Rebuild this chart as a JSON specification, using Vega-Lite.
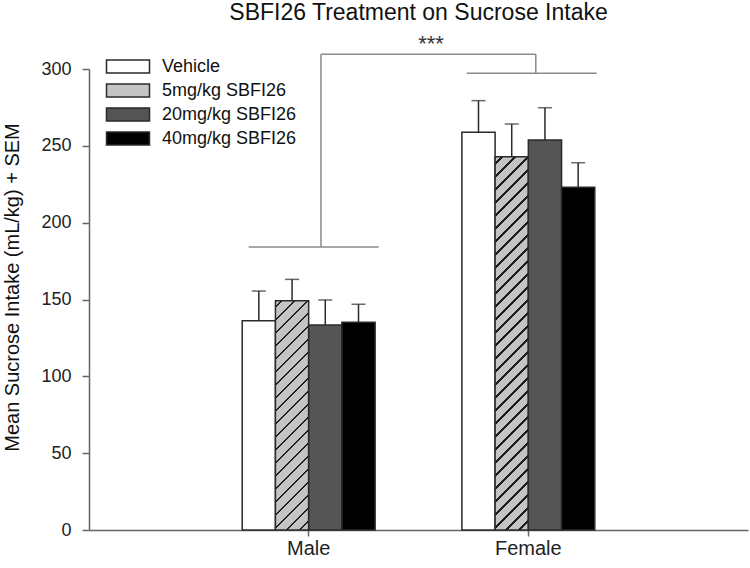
{
  "$schema": "https://vega.github.io/schema/vega-lite/v6.json",
  "width": 659,
  "height": 461,
  "autosize": {"type": "none"},
  "padding": {"left": 89, "top": 69, "right": 2, "bottom": 38},
  "background": "white",
  "config": {"view": {"stroke": null}, "font": "Liberation Sans"},
  "title": {"text": "SBFI26 Treatment on Sucrose Intake", "fontSize": 23, "font": "Liberation Sans", "fontWeight": "normal", "color": "#111111", "anchor": "middle", "offset": 8},
  "layer": [
    {
      "data": {"values": [
        {"sex": "Male", "treatment": "Vehicle", "mean": 136.2, "upper": 155.5},
        {"sex": "Male", "treatment": "5mg/kg SBFI26", "mean": 149.2, "upper": 163.1},
        {"sex": "Male", "treatment": "20mg/kg SBFI26", "mean": 133.4, "upper": 149.7},
        {"sex": "Male", "treatment": "40mg/kg SBFI26", "mean": 135.2, "upper": 146.9},
        {"sex": "Female", "treatment": "Vehicle", "mean": 258.8, "upper": 279.4},
        {"sex": "Female", "treatment": "5mg/kg SBFI26", "mean": 242.9, "upper": 264.2},
        {"sex": "Female", "treatment": "20mg/kg SBFI26", "mean": 253.8, "upper": 274.8},
        {"sex": "Female", "treatment": "40mg/kg SBFI26", "mean": 223.0, "upper": 239.0}
      ]},
      "encoding": {
        "x": {"field": "sex", "type": "nominal", "sort": ["Male", "Female"],
          "scale": {"domain": ["Male", "Female"], "paddingInner": 0.395, "paddingOuter": 0.6975},
          "axis": {"title": null, "labelAngle": 0, "labelFontSize": 20, "labelColor": "#222222", "tickSize": 6, "tickWidth": 1.5, "tickColor": "#666666", "domainColor": "#666666", "domainWidth": 1.5, "labelPadding": 2.5, "grid": false}},
        "xOffset": {"field": "treatment", "type": "nominal", "sort": ["Vehicle", "5mg/kg SBFI26", "20mg/kg SBFI26", "40mg/kg SBFI26"],
          "scale": {"domain": ["Vehicle", "5mg/kg SBFI26", "20mg/kg SBFI26", "40mg/kg SBFI26"], "paddingInner": 0, "paddingOuter": 0}}
      },
      "layer": [
        {
          "mark": {"type": "bar", "strokeWidth": 1.5},
          "encoding": {
            "y": {"field": "mean", "type": "quantitative", "scale": {"domain": [0, 300], "nice": false},
              "axis": {"values": [0, 50, 100, 150, 200, 250, 300], "grid": false, "tickSize": 7, "tickWidth": 1.5, "tickColor": "#666666", "domainColor": "#666666", "domainWidth": 1.5, "labelFontSize": 18, "labelColor": "#222222", "labelPadding": 11, "title": "Mean Sucrose Intake (mL/kg) + SEM", "titleFontSize": 20, "titleFontWeight": "normal", "titleColor": "#111111", "titlePadding": 18, "titleY": 218}},
            "stroke": {"field": "treatment", "type": "nominal",
              "scale": {"domain": ["Vehicle", "5mg/kg SBFI26", "20mg/kg SBFI26", "40mg/kg SBFI26"], "range": ["#2a2a2a", "#2a2a2a", "#2a2a2a", "#2a2a2a"]},
              "legend": {"title": null, "orient": "none", "legendX": 30, "legendY": -11.5, "padding": 0,
                "symbolType": "M-3.3077,-1H3.3077V1H-3.3077Z", "symbolSize": 169, "symbolStrokeWidth": 1.5, "symbolOpacity": 1,
                "labelFontSize": 18, "labelColor": "#111111", "labelOffset": 25, "rowPadding": 4}},
            "fill": {
              "condition": [
                {"test": "datum.sex === 'Male' && datum.treatment === '5mg/kg SBFI26'", "value": {"gradient": "linear", "x1": 0, "y1": 0, "x2": 0.16248, "y2": 1.12137, "stops": [
                  {"offset": 0, "color": "#c4c4c4"},
                  {"offset": 0.0200, "color": "#c4c4c4"}, {"offset": 0.0200, "color": "#1e1e1e"}, {"offset": 0.0284, "color": "#1e1e1e"}, {"offset": 0.0284, "color": "#c4c4c4"},
                  {"offset": 0.0695, "color": "#c4c4c4"}, {"offset": 0.0695, "color": "#1e1e1e"}, {"offset": 0.0779, "color": "#1e1e1e"}, {"offset": 0.0779, "color": "#c4c4c4"},
                  {"offset": 0.1191, "color": "#c4c4c4"}, {"offset": 0.1191, "color": "#1e1e1e"}, {"offset": 0.1275, "color": "#1e1e1e"}, {"offset": 0.1275, "color": "#c4c4c4"},
                  {"offset": 0.1686, "color": "#c4c4c4"}, {"offset": 0.1686, "color": "#1e1e1e"}, {"offset": 0.1770, "color": "#1e1e1e"}, {"offset": 0.1770, "color": "#c4c4c4"},
                  {"offset": 0.2181, "color": "#c4c4c4"}, {"offset": 0.2181, "color": "#1e1e1e"}, {"offset": 0.2265, "color": "#1e1e1e"}, {"offset": 0.2265, "color": "#c4c4c4"},
                  {"offset": 0.2676, "color": "#c4c4c4"}, {"offset": 0.2676, "color": "#1e1e1e"}, {"offset": 0.2760, "color": "#1e1e1e"}, {"offset": 0.2760, "color": "#c4c4c4"},
                  {"offset": 0.3172, "color": "#c4c4c4"}, {"offset": 0.3172, "color": "#1e1e1e"}, {"offset": 0.3256, "color": "#1e1e1e"}, {"offset": 0.3256, "color": "#c4c4c4"},
                  {"offset": 0.3667, "color": "#c4c4c4"}, {"offset": 0.3667, "color": "#1e1e1e"}, {"offset": 0.3751, "color": "#1e1e1e"}, {"offset": 0.3751, "color": "#c4c4c4"},
                  {"offset": 0.4162, "color": "#c4c4c4"}, {"offset": 0.4162, "color": "#1e1e1e"}, {"offset": 0.4246, "color": "#1e1e1e"}, {"offset": 0.4246, "color": "#c4c4c4"},
                  {"offset": 0.4657, "color": "#c4c4c4"}, {"offset": 0.4657, "color": "#1e1e1e"}, {"offset": 0.4741, "color": "#1e1e1e"}, {"offset": 0.4741, "color": "#c4c4c4"},
                  {"offset": 0.5153, "color": "#c4c4c4"}, {"offset": 0.5153, "color": "#1e1e1e"}, {"offset": 0.5237, "color": "#1e1e1e"}, {"offset": 0.5237, "color": "#c4c4c4"},
                  {"offset": 0.5648, "color": "#c4c4c4"}, {"offset": 0.5648, "color": "#1e1e1e"}, {"offset": 0.5732, "color": "#1e1e1e"}, {"offset": 0.5732, "color": "#c4c4c4"},
                  {"offset": 0.6143, "color": "#c4c4c4"}, {"offset": 0.6143, "color": "#1e1e1e"}, {"offset": 0.6227, "color": "#1e1e1e"}, {"offset": 0.6227, "color": "#c4c4c4"},
                  {"offset": 0.6638, "color": "#c4c4c4"}, {"offset": 0.6638, "color": "#1e1e1e"}, {"offset": 0.6722, "color": "#1e1e1e"}, {"offset": 0.6722, "color": "#c4c4c4"},
                  {"offset": 0.7134, "color": "#c4c4c4"}, {"offset": 0.7134, "color": "#1e1e1e"}, {"offset": 0.7218, "color": "#1e1e1e"}, {"offset": 0.7218, "color": "#c4c4c4"},
                  {"offset": 0.7629, "color": "#c4c4c4"}, {"offset": 0.7629, "color": "#1e1e1e"}, {"offset": 0.7713, "color": "#1e1e1e"}, {"offset": 0.7713, "color": "#c4c4c4"},
                  {"offset": 0.8124, "color": "#c4c4c4"}, {"offset": 0.8124, "color": "#1e1e1e"}, {"offset": 0.8208, "color": "#1e1e1e"}, {"offset": 0.8208, "color": "#c4c4c4"},
                  {"offset": 0.8619, "color": "#c4c4c4"}, {"offset": 0.8619, "color": "#1e1e1e"}, {"offset": 0.8703, "color": "#1e1e1e"}, {"offset": 0.8703, "color": "#c4c4c4"},
                  {"offset": 0.9115, "color": "#c4c4c4"}, {"offset": 0.9115, "color": "#1e1e1e"}, {"offset": 0.9199, "color": "#1e1e1e"}, {"offset": 0.9199, "color": "#c4c4c4"},
                  {"offset": 0.9610, "color": "#c4c4c4"}, {"offset": 0.9610, "color": "#1e1e1e"}, {"offset": 0.9694, "color": "#1e1e1e"}, {"offset": 0.9694, "color": "#c4c4c4"},
                  {"offset": 1, "color": "#c4c4c4"}
                ]}},
                {"test": "datum.sex === 'Female' && datum.treatment === '5mg/kg SBFI26'", "value": {"gradient": "linear", "x1": 0, "y1": 0, "x2": 0.09616, "y2": 1.08045, "stops": [
                  {"offset": 0, "color": "#c4c4c4"},
                  {"offset": 0.0150, "color": "#c4c4c4"}, {"offset": 0.0150, "color": "#1e1e1e"}, {"offset": 0.0204, "color": "#1e1e1e"}, {"offset": 0.0204, "color": "#c4c4c4"},
                  {"offset": 0.0470, "color": "#c4c4c4"}, {"offset": 0.0470, "color": "#1e1e1e"}, {"offset": 0.0524, "color": "#1e1e1e"}, {"offset": 0.0524, "color": "#c4c4c4"},
                  {"offset": 0.0790, "color": "#c4c4c4"}, {"offset": 0.0790, "color": "#1e1e1e"}, {"offset": 0.0844, "color": "#1e1e1e"}, {"offset": 0.0844, "color": "#c4c4c4"},
                  {"offset": 0.1109, "color": "#c4c4c4"}, {"offset": 0.1109, "color": "#1e1e1e"}, {"offset": 0.1163, "color": "#1e1e1e"}, {"offset": 0.1163, "color": "#c4c4c4"},
                  {"offset": 0.1429, "color": "#c4c4c4"}, {"offset": 0.1429, "color": "#1e1e1e"}, {"offset": 0.1483, "color": "#1e1e1e"}, {"offset": 0.1483, "color": "#c4c4c4"},
                  {"offset": 0.1749, "color": "#c4c4c4"}, {"offset": 0.1749, "color": "#1e1e1e"}, {"offset": 0.1803, "color": "#1e1e1e"}, {"offset": 0.1803, "color": "#c4c4c4"},
                  {"offset": 0.2069, "color": "#c4c4c4"}, {"offset": 0.2069, "color": "#1e1e1e"}, {"offset": 0.2123, "color": "#1e1e1e"}, {"offset": 0.2123, "color": "#c4c4c4"},
                  {"offset": 0.2389, "color": "#c4c4c4"}, {"offset": 0.2389, "color": "#1e1e1e"}, {"offset": 0.2443, "color": "#1e1e1e"}, {"offset": 0.2443, "color": "#c4c4c4"},
                  {"offset": 0.2709, "color": "#c4c4c4"}, {"offset": 0.2709, "color": "#1e1e1e"}, {"offset": 0.2763, "color": "#1e1e1e"}, {"offset": 0.2763, "color": "#c4c4c4"},
                  {"offset": 0.3028, "color": "#c4c4c4"}, {"offset": 0.3028, "color": "#1e1e1e"}, {"offset": 0.3082, "color": "#1e1e1e"}, {"offset": 0.3082, "color": "#c4c4c4"},
                  {"offset": 0.3348, "color": "#c4c4c4"}, {"offset": 0.3348, "color": "#1e1e1e"}, {"offset": 0.3402, "color": "#1e1e1e"}, {"offset": 0.3402, "color": "#c4c4c4"},
                  {"offset": 0.3668, "color": "#c4c4c4"}, {"offset": 0.3668, "color": "#1e1e1e"}, {"offset": 0.3722, "color": "#1e1e1e"}, {"offset": 0.3722, "color": "#c4c4c4"},
                  {"offset": 0.3988, "color": "#c4c4c4"}, {"offset": 0.3988, "color": "#1e1e1e"}, {"offset": 0.4042, "color": "#1e1e1e"}, {"offset": 0.4042, "color": "#c4c4c4"},
                  {"offset": 0.4308, "color": "#c4c4c4"}, {"offset": 0.4308, "color": "#1e1e1e"}, {"offset": 0.4362, "color": "#1e1e1e"}, {"offset": 0.4362, "color": "#c4c4c4"},
                  {"offset": 0.4627, "color": "#c4c4c4"}, {"offset": 0.4627, "color": "#1e1e1e"}, {"offset": 0.4681, "color": "#1e1e1e"}, {"offset": 0.4681, "color": "#c4c4c4"},
                  {"offset": 0.4947, "color": "#c4c4c4"}, {"offset": 0.4947, "color": "#1e1e1e"}, {"offset": 0.5001, "color": "#1e1e1e"}, {"offset": 0.5001, "color": "#c4c4c4"},
                  {"offset": 0.5267, "color": "#c4c4c4"}, {"offset": 0.5267, "color": "#1e1e1e"}, {"offset": 0.5321, "color": "#1e1e1e"}, {"offset": 0.5321, "color": "#c4c4c4"},
                  {"offset": 0.5587, "color": "#c4c4c4"}, {"offset": 0.5587, "color": "#1e1e1e"}, {"offset": 0.5641, "color": "#1e1e1e"}, {"offset": 0.5641, "color": "#c4c4c4"},
                  {"offset": 0.5907, "color": "#c4c4c4"}, {"offset": 0.5907, "color": "#1e1e1e"}, {"offset": 0.5961, "color": "#1e1e1e"}, {"offset": 0.5961, "color": "#c4c4c4"},
                  {"offset": 0.6227, "color": "#c4c4c4"}, {"offset": 0.6227, "color": "#1e1e1e"}, {"offset": 0.6281, "color": "#1e1e1e"}, {"offset": 0.6281, "color": "#c4c4c4"},
                  {"offset": 0.6546, "color": "#c4c4c4"}, {"offset": 0.6546, "color": "#1e1e1e"}, {"offset": 0.6600, "color": "#1e1e1e"}, {"offset": 0.6600, "color": "#c4c4c4"},
                  {"offset": 0.6866, "color": "#c4c4c4"}, {"offset": 0.6866, "color": "#1e1e1e"}, {"offset": 0.6920, "color": "#1e1e1e"}, {"offset": 0.6920, "color": "#c4c4c4"},
                  {"offset": 0.7186, "color": "#c4c4c4"}, {"offset": 0.7186, "color": "#1e1e1e"}, {"offset": 0.7240, "color": "#1e1e1e"}, {"offset": 0.7240, "color": "#c4c4c4"},
                  {"offset": 0.7506, "color": "#c4c4c4"}, {"offset": 0.7506, "color": "#1e1e1e"}, {"offset": 0.7560, "color": "#1e1e1e"}, {"offset": 0.7560, "color": "#c4c4c4"},
                  {"offset": 0.7826, "color": "#c4c4c4"}, {"offset": 0.7826, "color": "#1e1e1e"}, {"offset": 0.7880, "color": "#1e1e1e"}, {"offset": 0.7880, "color": "#c4c4c4"},
                  {"offset": 0.8146, "color": "#c4c4c4"}, {"offset": 0.8146, "color": "#1e1e1e"}, {"offset": 0.8200, "color": "#1e1e1e"}, {"offset": 0.8200, "color": "#c4c4c4"},
                  {"offset": 0.8465, "color": "#c4c4c4"}, {"offset": 0.8465, "color": "#1e1e1e"}, {"offset": 0.8519, "color": "#1e1e1e"}, {"offset": 0.8519, "color": "#c4c4c4"},
                  {"offset": 0.8785, "color": "#c4c4c4"}, {"offset": 0.8785, "color": "#1e1e1e"}, {"offset": 0.8839, "color": "#1e1e1e"}, {"offset": 0.8839, "color": "#c4c4c4"},
                  {"offset": 0.9105, "color": "#c4c4c4"}, {"offset": 0.9105, "color": "#1e1e1e"}, {"offset": 0.9159, "color": "#1e1e1e"}, {"offset": 0.9159, "color": "#c4c4c4"},
                  {"offset": 0.9425, "color": "#c4c4c4"}, {"offset": 0.9425, "color": "#1e1e1e"}, {"offset": 0.9479, "color": "#1e1e1e"}, {"offset": 0.9479, "color": "#c4c4c4"},
                  {"offset": 0.9745, "color": "#c4c4c4"}, {"offset": 0.9745, "color": "#1e1e1e"}, {"offset": 0.9799, "color": "#1e1e1e"}, {"offset": 0.9799, "color": "#c4c4c4"},
                  {"offset": 1, "color": "#c4c4c4"}
                ]}}
              ],
              "field": "treatment", "type": "nominal",
              "scale": {"domain": ["Vehicle", "5mg/kg SBFI26", "20mg/kg SBFI26", "40mg/kg SBFI26"],
                "range": ["#ffffff", "#c4c4c4", "#555555", "#000000"]},
              "legend": {"title": null, "orient": "none", "legendX": 30, "legendY": -11.5, "padding": 0,
                "symbolType": "M-3.3077,-1H3.3077V1H-3.3077Z", "symbolSize": 169, "symbolStrokeWidth": 1.5, "symbolOpacity": 1,
                "labelFontSize": 18, "labelColor": "#111111", "labelOffset": 25, "rowPadding": 4}
            }
          }
        },
        {
          "mark": {"type": "rule", "color": "#2a2a2a", "strokeWidth": 1.5},
          "encoding": {
            "y": {"field": "mean", "type": "quantitative", "scale": {"domain": [0, 300], "nice": false}},
            "y2": {"field": "upper"}
          }
        },
        {
          "mark": {"type": "tick", "color": "#2a2a2a", "size": 14, "thickness": 1.5},
          "encoding": {
            "y": {"field": "upper", "type": "quantitative", "scale": {"domain": [0, 300], "nice": false}}
          }
        }
      ]
    },
    {
      "layer": [
        {
          "data": {"values": [
            {"x": 0.727, "x2": 1.319, "y": 184.2, "y2": 184.2},
            {"x": 1.056, "x2": 1.056, "y": 184.2, "y2": 309.6},
            {"x": 1.056, "x2": 2.034, "y": 309.6, "y2": 309.6},
            {"x": 2.034, "x2": 2.034, "y": 309.6, "y2": 297.2},
            {"x": 1.719, "x2": 2.311, "y": 297.2, "y2": 297.2}
          ]},
          "mark": {"type": "rule", "color": "#8a8a8a", "strokeWidth": 1.5},
          "encoding": {
            "x": {"field": "x", "type": "quantitative", "scale": {"domain": [0, 3], "nice": false, "zero": false}, "axis": null},
            "x2": {"field": "x2"},
            "y": {"field": "y", "type": "quantitative", "scale": {"domain": [0, 300], "nice": false}},
            "y2": {"field": "y2"}
          }
        },
        {
          "data": {"values": [{"x": 1.557, "y": 312, "label": "***"}]},
          "mark": {"type": "text", "fontSize": 22, "baseline": "alphabetic", "align": "center", "color": "#333333"},
          "encoding": {
            "x": {"field": "x", "type": "quantitative", "scale": {"domain": [0, 3], "nice": false, "zero": false}, "axis": null},
            "y": {"field": "y", "type": "quantitative", "scale": {"domain": [0, 300], "nice": false}},
            "text": {"field": "label"}
          }
        }
      ]
    }
  ],
  "resolve": {"scale": {"x": "independent"}, "axis": {"x": "independent"}}
}
